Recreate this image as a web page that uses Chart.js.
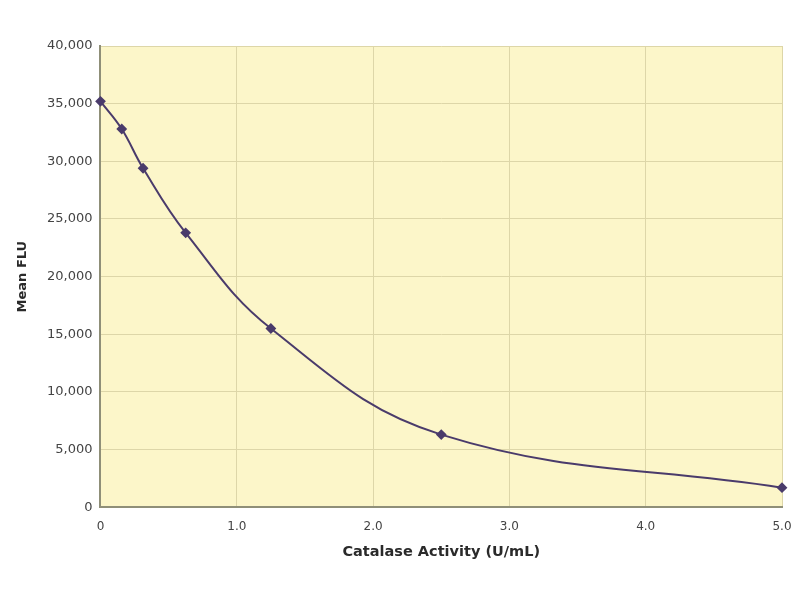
<!DOCTYPE html>
<html>
<head>
<meta charset="utf-8">
<script src="https://cdn.jsdelivr.net/npm/chart.js@4"></script>
<style>
    html, body { margin: 0; padding: 0; background: #ffffff; }
    #wrap { width: 800px; height: 600px; position: relative; }
</style>
</head>
<body>
<div id="wrap"><canvas id="mainChart"></canvas></div>
<script>
// Catalase standard curve values
const activity = [0, 0.156, 0.3125, 0.625, 1.25, 2.5, 5.0];
const meanFlu = [35200, 32800, 29400, 23800, 15500, 6300, 1700];
const xTicks = [0, 1, 2, 3, 4, 5];
const yTicks = [0, 5000, 10000, 15000, 20000, 25000, 30000, 35000, 40000];

const PURPLE = '#4a3b6b';
const GRID = '#ddd6a8';
const AXIS = '#8f8f78';
const TEXT = '#444444';

const plotBackground = {
    id: 'plotBackground',
    beforeDraw(chart) {
        const { ctx, chartArea: a } = chart;
        ctx.save();
        ctx.fillStyle = '#fcf6c9';
        ctx.fillRect(a.left, a.top, a.right - a.left, a.bottom - a.top);
        ctx.restore();
    }
};

const ctx = document.getElementById('mainChart').getContext('2d');

new Chart(ctx, {
    type: 'line',
    data: {
        datasets: [{
            label: 'Mean FLU',
            data: activity.map((x, i) => ({ x, y: meanFlu[i] })),
            borderColor: PURPLE,
            backgroundColor: PURPLE,
            borderWidth: 2,
            pointStyle: 'rectRot',
            pointRadius: 4,
            tension: 0.4,
            clip: false
        }]
    },
    options: {
        responsive: true,
        maintainAspectRatio: false,
        animation: false,
        layout: { padding: { left: 12, right: 18, top: 46, bottom: 38 } },
        plugins: {
            legend: { display: false },
            tooltip: { enabled: false }
        },
        scales: {
            x: {
                type: 'linear',
                min: 0,
                max: 5,
                afterBuildTicks(axis) { axis.ticks = xTicks.map(v => ({ value: v })); },
                afterFit(axis) { axis.paddingRight = 0; },
                grid: { color: GRID, lineWidth: 1, drawTicks: false },
                border: { color: AXIS, width: 2 },
                ticks: {
                    color: TEXT,
                    padding: 12,
                    font: { family: 'DejaVu Sans', size: 12 },
                    callback: v => v === 0 ? '0' : v.toFixed(1)
                },
                title: {
                    display: true,
                    text: 'Catalase Activity (U/mL)',
                    color: '#2a2a2a',
                    padding: { top: 0 },
                    font: { family: 'DejaVu Sans', size: 14.5, weight: 'bold', lineHeight: 0.85 }
                }
            },
            y: {
                min: 0,
                max: 40000,
                afterBuildTicks(axis) { axis.ticks = yTicks.map(v => ({ value: v })); },
                grid: { color: GRID, lineWidth: 1, drawTicks: false },
                border: { color: AXIS, width: 2 },
                ticks: {
                    color: TEXT,
                    padding: 8,
                    font: { family: 'DejaVu Sans', size: 13 },
                    callback: v => v.toLocaleString('en-US')
                },
                title: {
                    display: true,
                    text: 'Mean FLU',
                    color: '#2a2a2a',
                    padding: { bottom: 10 },
                    font: { family: 'DejaVu Sans', size: 13, weight: 'bold', lineHeight: 1 }
                }
            }
        }
    },
    plugins: [plotBackground]
});
</script>
</body>
</html>
